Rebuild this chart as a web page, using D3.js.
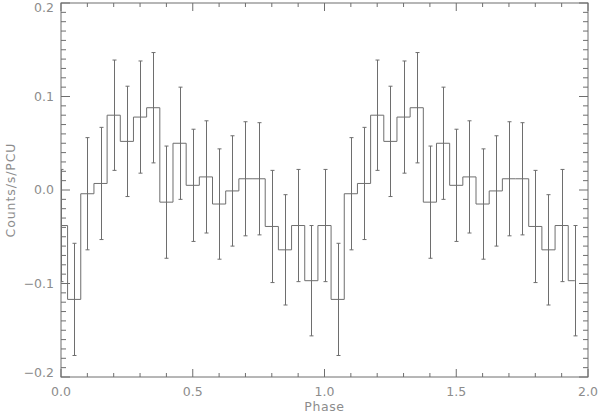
<!DOCTYPE html>
<html>
<head>
<meta charset="utf-8">
<script src="https://cdn.jsdelivr.net/npm/d3@7/dist/d3.min.js"></script>
<style>
  html, body { margin: 0; padding: 0; background: #fff; }
  svg { display: block; }
  text { font-family: "DejaVu Sans", sans-serif; fill: #8c8c8c; }
</style>
</head>
<body>
<svg id="chart" width="600" height="415"></svg>
<script>
// Phase of each point (two cycles, 0.05 bins)
const phase = [
  0.00, 0.05, 0.10, 0.15, 0.20, 0.25, 0.30, 0.35, 0.40, 0.45,
  0.50, 0.55, 0.60, 0.65, 0.70, 0.75, 0.80, 0.85, 0.90, 0.95,
  1.00, 1.05, 1.10, 1.15, 1.20, 1.25, 1.30, 1.35, 1.40, 1.45,
  1.50, 1.55, 1.60, 1.65, 1.70, 1.75, 1.80, 1.85, 1.90, 1.95
];
// Counts/s/PCU
const rate = [
  -0.038, -0.117, -0.004, 0.007, 0.080, 0.052, 0.078, 0.088, -0.013, 0.050,
   0.005, 0.014, -0.015, -0.001, 0.012, 0.012, -0.039, -0.064, -0.038, -0.097,
  -0.038, -0.117, -0.004, 0.007, 0.080, 0.052, 0.078, 0.088, -0.013, 0.050,
   0.005, 0.014, -0.015, -0.001, 0.012, 0.012, -0.039, -0.064, -0.038, -0.097
];
// 1-sigma errors
const err = [
  0.060, 0.060, 0.060, 0.060, 0.059, 0.059, 0.060, 0.059, 0.060, 0.060,
  0.060, 0.060, 0.059, 0.059, 0.061, 0.060, 0.060, 0.059, 0.060, 0.059,
  0.060, 0.060, 0.060, 0.060, 0.059, 0.059, 0.060, 0.059, 0.060, 0.060,
  0.060, 0.060, 0.059, 0.059, 0.061, 0.060, 0.060, 0.059, 0.060, 0.059
];
const xMajor = [0.0, 0.5, 1.0, 1.5, 2.0];
const yMajor = [-0.2, -0.1, 0.0, 0.1, 0.2];
const xLabel = "Phase";
const yLabel = "Counts/s/PCU";

const data = phase.map((p, i) => ({ p, v: rate[i], e: err[i] }));

const svg = d3.select("#chart");
const L = 61, R = 588, T = 3, B = 377;
const x = d3.scaleLinear().domain([0, 2]).range([L, R]);
const y = d3.scaleLinear().domain([-0.2, 0.2]).range([B, T]);
const col = "#6e6e6e";

svg.append("defs").append("clipPath").attr("id", "clip")
  .append("rect").attr("x", L).attr("y", T).attr("width", R - L).attr("height", B - T);

const g = svg.append("g").attr("clip-path", "url(#clip)");

// error bars
const eb = g.append("g").attr("stroke", col).attr("stroke-width", 1).attr("fill", "none");
data.forEach(d => {
  const cx = Math.round(x(d.p)) + 0.5;
  eb.append("line").attr("x1", cx).attr("x2", cx).attr("y1", y(d.v - d.e)).attr("y2", y(d.v + d.e));
  eb.append("line").attr("x1", cx - 2).attr("x2", cx + 2).attr("y1", y(d.v + d.e)).attr("y2", y(d.v + d.e));
  eb.append("line").attr("x1", cx - 2).attr("x2", cx + 2).attr("y1", y(d.v - d.e)).attr("y2", y(d.v - d.e));
});

// histogram step
const line = d3.line().x(d => x(d.p)).y(d => y(d.v)).curve(d3.curveStep);
g.append("path").datum(data).attr("d", line)
  .attr("fill", "none").attr("stroke", col).attr("stroke-width", 1);

// frame
svg.append("rect").attr("x", L).attr("y", T).attr("width", R - L).attr("height", B - T)
  .attr("fill", "none").attr("stroke", col).attr("stroke-width", 1);

// axes with ticks on all four sides
function axisTicks(axis, scale, major, minorStep, majLen, minLen) {
  const [d0, d1] = scale.domain();
  const n = Math.round((d1 - d0) / minorStep);
  const minor = d3.range(n + 1).map(i => d0 + i * minorStep);
  const grp = svg.append("g").attr("stroke", col).attr("stroke-width", 1);
  const isMajor = v => major.some(m => Math.abs(m - v) < 1e-9);
  minor.forEach(v => {
    const len = isMajor(v) ? majLen : minLen;
    const p = scale(v);
    if (axis === "x") {
      grp.append("line").attr("x1", p).attr("x2", p).attr("y1", B).attr("y2", B - len);
      grp.append("line").attr("x1", p).attr("x2", p).attr("y1", T).attr("y2", T + len);
    } else {
      grp.append("line").attr("y1", p).attr("y2", p).attr("x1", L).attr("x2", L + len);
      grp.append("line").attr("y1", p).attr("y2", p).attr("x1", R).attr("x2", R - len);
    }
  });
}
axisTicks("x", x, xMajor, 0.1, 8, 4);
axisTicks("y", y, yMajor, 0.01, 9, 5);

const fmt = d3.format(".1f");
svg.append("g").selectAll("text").data(xMajor).join("text")
  .attr("x", d => x(d)).attr("y", 396)
  .attr("text-anchor", "middle").attr("font-size", 12.5)
  .text(d => fmt(d));

svg.append("g").selectAll("text").data(yMajor).join("text")
  .attr("x", 54)
  .attr("y", d => y(d) + (d >= 0.2 - 1e-9 ? 5 : d <= -0.2 + 1e-9 ? -4 : 0))
  .attr("dy", "0.35em")
  .attr("text-anchor", "end").attr("font-size", 12.5)
  .text(d => fmt(d));

svg.append("text").attr("x", (L + R) / 2).attr("y", 411)
  .attr("text-anchor", "middle").attr("font-size", 12.5)
  .attr("letter-spacing", 0.6).text(xLabel);

svg.append("text").attr("transform", `translate(15,190) rotate(-90)`)
  .attr("text-anchor", "middle").attr("font-size", 12.5)
  .attr("letter-spacing", 0.9).text(yLabel);
</script>
</body>
</html>
